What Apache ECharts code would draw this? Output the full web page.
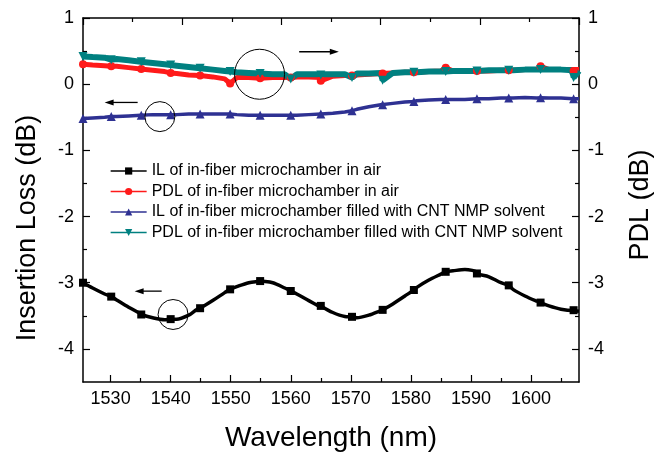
<!DOCTYPE html>
<html><head><meta charset="utf-8">
<script src="https://cdn.jsdelivr.net/npm/echarts@6/dist/echarts.min.js"></script>
<style>html,body{margin:0;padding:0;background:#fff}#c{width:662px;height:457px}</style>
</head><body><div id="c"></div>
<script>
// ---- data ----
const wavelength = [1525.4,1527,1529,1531,1533,1535,1537,1539,1541,1543,1545,1547,1549,1551,1553,1555,1557,1559,1561,1563,1565,1567,1569,1571,1573,1575,1577,1579,1581,1583,1585,1587,1589,1591,1593,1595,1597,1599,1601,1603,1605,1607,1608];
const ilAir  = [-3.00,-3.08,-3.17,-3.26,-3.37,-3.47,-3.53,-3.56,-3.55,-3.49,-3.39,-3.27,-3.15,-3.06,-3.00,-2.97,-3.00,-3.08,-3.17,-3.27,-3.37,-3.45,-3.51,-3.53,-3.49,-3.42,-3.32,-3.20,-3.07,-2.96,-2.87,-2.82,-2.80,-2.84,-2.91,-3.00,-3.10,-3.20,-3.28,-3.35,-3.40,-3.42,-3.43];
const pdlAir = [0.30,0.29,0.28,0.27,0.25,0.23,0.21,0.19,0.16,0.14,0.12,0.11,0.08,0.10,0.10,0.10,0.10,0.10,0.11,0.11,0.10,0.12,0.13,0.14,0.15,0.16,0.17,0.18,0.18,0.19,0.20,0.20,0.20,0.20,0.20,0.21,0.21,0.22,0.22,0.22,0.22,0.22,0.22];
const ilCnt  = [-0.52,-0.51,-0.50,-0.49,-0.48,-0.47,-0.46,-0.46,-0.46,-0.45,-0.45,-0.45,-0.45,-0.46,-0.47,-0.47,-0.47,-0.47,-0.47,-0.46,-0.45,-0.44,-0.42,-0.38,-0.34,-0.31,-0.29,-0.27,-0.25,-0.24,-0.23,-0.23,-0.23,-0.22,-0.22,-0.21,-0.21,-0.20,-0.21,-0.21,-0.21,-0.22,-0.22];
const pdlCnt = [0.42,0.41,0.40,0.38,0.36,0.34,0.32,0.30,0.28,0.26,0.24,0.22,0.20,0.18,0.17,0.16,0.15,0.15,0.15,0.15,0.15,0.15,0.15,0.16,0.16,0.17,0.17,0.18,0.18,0.19,0.19,0.20,0.20,0.20,0.21,0.21,0.21,0.22,0.22,0.22,0.22,0.21,0.20];

const markerWl  = [1525.4,1530.1,1535.1,1540.0,1544.9,1549.9,1554.9,1560.0,1565.0,1570.2,1575.3,1580.5,1585.8,1591.0,1596.3,1601.6,1607.1];
const ilAirMk   = [-3.00,-3.21,-3.48,-3.55,-3.385,-3.10,-2.975,-3.125,-3.35,-3.515,-3.41,-3.11,-2.835,-2.86,-3.04,-3.30,-3.415];
const pdlAirMk  = [0.30,0.27,0.23,0.17,0.13,0.01,0.09,0.10,0.05,0.13,0.16,0.18,0.25,0.20,0.21,0.27,0.20];
const ilCntMk   = [-0.52,-0.49,-0.47,-0.46,-0.45,-0.45,-0.47,-0.47,-0.45,-0.40,-0.31,-0.26,-0.23,-0.22,-0.21,-0.205,-0.22];
const pdlCntMk  = [0.42,0.37,0.34,0.29,0.24,0.19,0.16,0.08,0.14,0.10,0.06,0.18,0.19,0.20,0.21,0.22,0.10];

const seriesNames = [
  'IL of in-fiber microchamber in air',
  'PDL of in-fiber microchamber in air',
  'IL of in-fiber microchamber filled with CNT NMP solvent',
  'PDL of in-fiber microchamber filled with CNT NMP solvent'
];
const xMajorTicks = [1530,1540,1550,1560,1570,1580,1590,1600];
const xMinorTicks = [1535,1545,1555,1565,1575,1585,1595,1605];
const yMajorTicks = [-4,-3,-2,-1,0,1];
const yMinorTicks = [-3.5,-2.5,-1.5,-0.5,0.5];

// annotations (data coordinates)
const circles = [[1554.8,0.15,25],[1538.2,-0.49,15],[1540.4,-3.48,15]];
const arrows  = [[1561.4,1568.0,0.49,1],[1529.0,1534.5,-0.276,-1],[1534.0,1538.5,-3.127,-1]];

// ---- chart ----
const FONT = "'Liberation Sans', Arial, sans-serif";
function build(lineVals, mkVals){
  const pts = wavelength.map((x,i)=>({value:[x,lineVals[i]], symbol:'none'}));
  const mks = markerWl.map((x,i)=>({value:[x,mkVals[i]]}));
  return pts.concat(mks).sort((a,b)=>a.value[0]-b.value[0]);
}
const chart = echarts.init(document.getElementById('c'), null, {renderer:'canvas'});
const XMIN = 1525.4, XMAX = 1608, YMIN = -4.5, YMAX = 1;
const axLine = {show:true, onZero:false, lineStyle:{color:'#000', width:1.5}};
const noLine = {show:false, onZero:false};
function yAxisDef(pos, major, name, gap, pad){
  return {
    type:'value', position:pos, min:YMIN, max:YMAX,
    axisLine: major ? axLine : noLine,
    axisTick: {show:true, inside:true, length: major?7:4, lineStyle:{color:'#000',width:1.2},
               customValues: major ? yMajorTicks : yMinorTicks},
    axisLabel: major ? {show:true, customValues:yMajorTicks, fontSize:18, color:'#000', fontFamily:FONT, margin:9,
               formatter:v=>String(v)} : {show:false},
    splitLine:{show:false},
    name: major ? name : '', nameLocation:'middle', nameGap:gap, nameRotate: 90,
    nameTextStyle:{fontSize:27, color:'#000', fontFamily:FONT, padding:pad || 0}
  };
}
const option = {
  animation:false,
  backgroundColor:'#fff',
  grid:{left:83, right:80, top:18, bottom:74, show:false},
  legend:{
    orient:'vertical', left:105, top:158,
    itemWidth:36, itemHeight:9, itemGap:4.5,
    data: seriesNames,
    lineStyle:{width:1.3},
    textStyle:{fontSize:16, color:'#000', fontFamily:FONT, lineHeight:16}
  },
  xAxis:[
    {type:'value', position:'bottom', min:XMIN, max:XMAX,
     axisLine:axLine,
     axisTick:{show:true, inside:true, length:7, lineStyle:{color:'#000',width:1.2}, customValues:xMajorTicks},
     axisLabel:{show:true, customValues:xMajorTicks, fontSize:18, color:'#000', fontFamily:FONT, margin:8,
                formatter:v=>String(v)},
     splitLine:{show:false},
     name:'Wavelength (nm)', nameLocation:'middle', nameGap:42,
     nameTextStyle:{fontSize:28, color:'#000', fontFamily:FONT}},
    {type:'value', position:'bottom', min:XMIN, max:XMAX,
     axisLine:noLine,
     axisTick:{show:true, inside:true, length:4, lineStyle:{color:'#000',width:1.2}, customValues:xMinorTicks},
     axisLabel:{show:false}, splitLine:{show:false}},
    {type:'value', position:'top', min:0, max:1, interval:0.2,
     axisLine:axLine,
     axisTick:{show:true, inside:true, length:7, lineStyle:{color:'#000',width:1.2}},
     minorTick:{show:true, splitNumber:2, length:4, lineStyle:{color:'#000',width:1.2}},
     axisLabel:{show:false}, splitLine:{show:false}}
  ],
  yAxis:[
    yAxisDef('left', true, 'Insertion Loss (dB)', 42, [0,56,0,0]),
    yAxisDef('left', false, '', 0),
    yAxisDef('right', true, 'PDL (dB)', 48, [0,10,0,0]),
    yAxisDef('right', false, '', 0)
  ],
  series:[
    {name:seriesNames[0], type:'line', xAxisIndex:0, yAxisIndex:0, data:build(ilAir, ilAirMk),
     symbol:'rect', symbolSize:8, showAllSymbol:true, smooth:0.3,
     lineStyle:{color:'#000', width:3.5}, itemStyle:{color:'#000'}},
    {name:seriesNames[1], type:'line', xAxisIndex:0, yAxisIndex:2, data:build(pdlAir, pdlAirMk),
     symbol:'circle', symbolSize:8, showAllSymbol:true,
     lineStyle:{color:'#ff1a1a', width:5}, itemStyle:{color:'#ff1a1a'}},
    {name:seriesNames[2], type:'line', xAxisIndex:0, yAxisIndex:0, data:build(ilCnt, ilCntMk),
     symbol:'triangle', symbolSize:9, showAllSymbol:true,
     lineStyle:{color:'#2e3192', width:3.5}, itemStyle:{color:'#2e3192'}},
    {name:seriesNames[3], type:'line', xAxisIndex:0, yAxisIndex:2, data:build(pdlCnt, pdlCntMk),
     symbol:'path://M0,0L10,0L5,9Z', symbolSize:9, showAllSymbol:true,
     lineStyle:{color:'#008080', width:6}, itemStyle:{color:'#008080'}}
  ]
};
chart.setOption(option);

const toPx = p => chart.convertToPixel({xAxisIndex:0, yAxisIndex:0}, p);
const graphics = [];
circles.forEach(c=>{
  const p = toPx([c[0], c[1]]);
  graphics.push({type:'circle', shape:{cx:p[0], cy:p[1], r:c[2]}, style:{fill:'none', stroke:'#000', lineWidth:1}, z:100});
});
arrows.forEach(a=>{
  const p1 = toPx([a[0], a[2]]), p2 = toPx([a[1], a[2]]);
  const y = p1[1];
  const dir = a[3];
  const tip = dir>0 ? p2[0] : p1[0];
  const tail = dir>0 ? p1[0] : p2[0];
  graphics.push({type:'line', shape:{x1:tail, y1:y, x2:tip - dir*6, y2:y}, style:{stroke:'#000', lineWidth:1.3}, z:100});
  graphics.push({type:'polygon', shape:{points:[[tip,y],[tip-dir*9,y-3],[tip-dir*9,y+3]]}, style:{fill:'#000'}, z:100});
});
chart.setOption({graphic:graphics});
</script></body></html>
